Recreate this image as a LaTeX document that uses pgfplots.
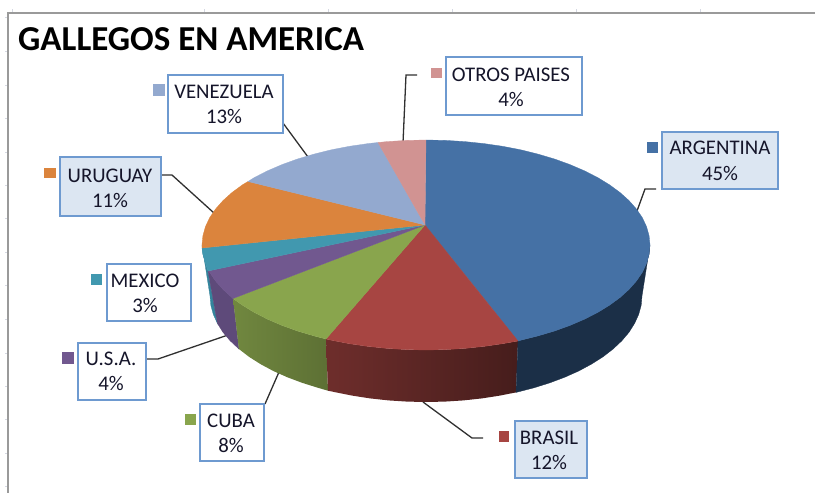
\documentclass[border=0pt]{standalone}
\usepackage{pgfplots}
\pgfplotsset{compat=1.18}
\usepackage{fontspec}
\setmainfont{Carlito}
\definecolor{cBlue}{HTML}{4571A5}
\definecolor{cRed}{HTML}{A74542}
\definecolor{cGreen}{HTML}{89A54D}
\definecolor{cPurple}{HTML}{71588F}
\definecolor{cTeal}{HTML}{4198AF}
\definecolor{cOrange}{HTML}{DB843D}
\definecolor{cLight}{HTML}{93A9CF}
\definecolor{cPink}{HTML}{D19392}
\definecolor{sBlue}{HTML}{1B2F47}
\definecolor{sPurple}{HTML}{5E4A7A}
\definecolor{sTeal}{HTML}{34849C}
\definecolor{boxline}{HTML}{6E9AD0}
\definecolor{boxfill}{HTML}{DCE6F2}
\definecolor{txt}{HTML}{15152A}
\definecolor{frameline}{HTML}{9A9A9A}
\definecolor{tickline}{HTML}{D5D8E2}
\definecolor{leader}{HTML}{303030}
\begin{document}
\begin{tikzpicture}
\begin{axis}[
  scale only axis, width=815pt, height=493pt,
  xmin=0, xmax=815, ymin=0, ymax=493, y dir=reverse,
  hide axis, clip=true,
  box/.style={draw=boxline, line width=1.3pt, fill=#1},
  key/.style={draw=none, fill=#1},
  lead/.style={draw=leader, line width=1.3pt, mark=none},
  top/.style={fill=#1, draw=#1, line width=0.3pt},
]
% background
\addplot[draw=none, fill=white] coordinates {(0,0)(815,0)(815,493)(0,493)} --cycle;
% sheet grid marks and frame
\addplot[tickline, line width=1pt] coordinates {(5,17)(8,17)};
\addplot[tickline, line width=1pt] coordinates {(5,51)(8,51)};
\addplot[tickline, line width=1pt] coordinates {(5,85)(8,85)};
\addplot[tickline, line width=1pt] coordinates {(5,118)(8,118)};
\addplot[tickline, line width=1pt] coordinates {(5,152)(8,152)};
\addplot[tickline, line width=1pt] coordinates {(5,185)(8,185)};
\addplot[tickline, line width=1pt] coordinates {(5,218)(8,218)};
\addplot[tickline, line width=1pt] coordinates {(5,252)(8,252)};
\addplot[tickline, line width=1pt] coordinates {(5,285)(8,285)};
\addplot[tickline, line width=1pt] coordinates {(5,319)(8,319)};
\addplot[tickline, line width=1pt] coordinates {(5,353)(8,353)};
\addplot[tickline, line width=1pt] coordinates {(5,386)(8,386)};
\addplot[tickline, line width=1pt] coordinates {(5,419)(8,419)};
\addplot[tickline, line width=1pt] coordinates {(5,453)(8,453)};
\addplot[tickline, line width=1pt] coordinates {(5,486)(8,486)};
\addplot[tickline, line width=1pt] coordinates {(12,9)(12,13)};
\addplot[tickline, line width=1pt] coordinates {(204,9)(204,13)};
\addplot[tickline, line width=1pt] coordinates {(328,9)(328,13)};
\addplot[tickline, line width=1pt] coordinates {(452,9)(452,13)};
\addplot[tickline, line width=1pt] coordinates {(576,9)(576,13)};
\addplot[tickline, line width=1pt] coordinates {(700,9)(700,13)};
\addplot[frameline, line width=1.2pt] coordinates {(8,493)(8,13)(815,13)};

% leader lines
\addplot[lead] coordinates {(283,123)(308,157)};
\addplot[lead] coordinates {(162,175)(172,175)(214,213)};
\addplot[lead] coordinates {(147,359)(158,359)(228,335)};
\addplot[lead] coordinates {(265,404)(279,372)};
\addplot[lead] coordinates {(423,402)(472,438)(483,438)};
\addplot[lead] coordinates {(656,189)(645,189)(637,211)};
\addplot[lead] coordinates {(417,75)(406,75)(403,143)};

% sides
\addplot[top=sTeal] coordinates {(202,245)(202.9,254.2)(205.4,263.2)(208,271)(217.4,323.4)(213.3,314.4)(210.8,305.2)(210,296)} --cycle;
\addplot[top=sPurple] coordinates {(208,271)(209.6,272.2)(215.5,280.9)(223,289.4)(233,298.5)(238.9,349)(230.2,340.8)(223,332.3)(217.4,323.4)} --cycle;
\addplot[draw=none, left color=cGreen!82!black, right color=cGreen!68!black] coordinates {(233,298.5)(242.5,305.2)(254.4,312.5)(267.6,319.2)(282,325.4)(297.5,331)(314,335.9)(326,339)(328,390.7)(318,387.8)(302.1,382.8)(287.2,377.2)(273.3,371)(260.5,364.1)(249,356.8)(238.9,349)} --cycle;
\addplot[draw=none, left color=cRed!66!black, right color=cRed!42!black] coordinates {(326,339)(331.3,340.2)(349.4,343.7)(368,346.4)(387.1,348.4)(406.5,349.6)(426,350)(445.5,349.6)(464.9,348.4)(484,346.4)(502.6,343.7)(518,341)(516,392.4)(499.9,395.6)(481.9,398.4)(463.5,400.4)(444.8,401.6)(426,402)(407.2,401.6)(388.5,400.4)(370.1,398.4)(352.1,395.6)(334.7,392.1)(328,390.7)} --cycle;
\addplot[top=sBlue] coordinates {(650,245)(649.1,254.2)(646.6,263.2)(642.4,272.2)(636.5,280.9)(629,289.4)(620,297.5)(609.5,305.2)(597.6,312.5)(584.4,319.2)(570,325.4)(554.5,331)(538,335.9)(520.7,340.2)(518,341)(516,392.4)(517.3,392.1)(534,387.8)(549.9,382.8)(564.8,377.2)(578.7,371)(591.5,364.1)(603,356.8)(613.1,349)(621.8,340.8)(629,332.3)(634.6,323.4)(638.7,314.4)(641.2,305.2)(642,296)} --cycle;

% top faces
\addplot[top=cBlue] coordinates {(425,225)(426,140)(445.5,140.4)(464.9,141.6)(484,143.6)(502.6,146.3)(520.7,149.8)(538,154.1)(554.5,159)(570,164.6)(584.4,170.8)(597.6,177.5)(609.5,184.8)(620,192.5)(629,200.6)(636.5,209.1)(642.4,217.8)(646.6,226.8)(649.1,235.8)(650,245)(649.1,254.2)(646.6,263.2)(642.4,272.2)(636.5,280.9)(629,289.4)(620,297.5)(609.5,305.2)(597.6,312.5)(584.4,319.2)(570,325.4)(554.5,331)(538,335.9)(520.7,340.2)(518,341)} --cycle;
\addplot[top=cRed] coordinates {(425,225)(518,341)(502.6,343.7)(484,346.4)(464.9,348.4)(445.5,349.6)(426,350)(406.5,349.6)(387.1,348.4)(368,346.4)(349.4,343.7)(331.3,340.2)(326,339)} --cycle;
\addplot[top=cGreen] coordinates {(425,225)(326,339)(314,335.9)(297.5,331)(282,325.4)(267.6,319.2)(254.4,312.5)(242.5,305.2)(233,298.5)} --cycle;
\addplot[top=cPurple] coordinates {(425,225)(233,298.5)(223,289.4)(215.5,280.9)(209.6,272.2)(208,271)} --cycle;
\addplot[top=cTeal] coordinates {(425,225)(208,271)(205.4,263.2)(202.9,254.2)(202,248)} --cycle;
\addplot[top=cOrange] coordinates {(425,225)(202,248)(202,245)(202.9,235.8)(205.4,226.8)(209.6,217.8)(215.5,209.1)(223,200.6)(232,192.5)(242.5,184.8)(248,181.5)} --cycle;
\addplot[top=cLight] coordinates {(425,225)(248,181.5)(254.4,177.5)(267.6,170.8)(282,164.6)(297.5,159)(314,154.1)(331.3,149.8)(349.4,146.3)(368,143.6)(378,142.5)} --cycle;
\addplot[top=cPink] coordinates {(425,225)(378,142.5)(387.1,141.6)(406.5,140.4)(426,140)} --cycle;

% label boxes
\addplot[box=white] coordinates {(168,75)(283,75)(283,133)(168,133)} --cycle;
\addplot[box=boxfill] coordinates {(60,157)(161,157)(161,216)(60,216)} --cycle;
\addplot[box=white] coordinates {(107,264)(191,264)(191,321)(107,321)} --cycle;
\addplot[box=white] coordinates {(78,343)(146,343)(146,400)(78,400)} --cycle;
\addplot[box=white] coordinates {(200,404)(264,404)(264,461)(200,461)} --cycle;
\addplot[box=white] coordinates {(446,57)(582,57)(582,115)(446,115)} --cycle;
\addplot[box=boxfill] coordinates {(662,132)(778,132)(778,189)(662,189)} --cycle;
\addplot[box=boxfill] coordinates {(515,421)(587,421)(587,478)(515,478)} --cycle;

% legend keys
\addplot[key=cLight] coordinates {(153,84)(165,84)(165,96)(153,96)} --cycle;
\addplot[key=cOrange] coordinates {(44,168)(56,168)(56,178)(44,178)} --cycle;
\addplot[key=cTeal] coordinates {(91,274)(102,274)(102,285)(91,285)} --cycle;
\addplot[key=cPurple] coordinates {(62,352)(74,352)(74,364)(62,364)} --cycle;
\addplot[key=cGreen] coordinates {(185,414)(196,414)(196,425)(185,425)} --cycle;
\addplot[key=cPink] coordinates {(431,68)(442,68)(442,78)(431,78)} --cycle;
\addplot[key=cBlue] coordinates {(647,142)(658,142)(658,153)(647,153)} --cycle;
\addplot[key=cRed] coordinates {(499,431)(509,431)(509,442)(499,442)} --cycle;

% title and texts
\node[anchor=base west,inner sep=0pt,font=\fontsize{35}{38}\bfseries\selectfont] at (axis cs:18,50) {GALLEGOS EN AMERICA};
\def\lb#1#2#3{%
  \node[anchor=base,inner sep=0pt,text=txt,font=\fontsize{20.8}{23}\selectfont] at (axis cs:#1,#2) {#3};}
\lb{224}{98}{VENEZUELA}
\lb{224}{123}{13\%}
\lb{110}{182}{URUGUAY}
\lb{110}{207}{11\%}
\lb{145}{287}{MEXICO}
\lb{145}{312}{3\%}
\lb{111}{365}{U.S.A.}
\lb{111}{390}{4\%}
\lb{231}{427}{CUBA}
\lb{231}{452}{8\%}
\lb{511}{81}{OTROS PAISES}
\lb{511}{106}{4\%}
\lb{720}{154}{ARGENTINA}
\lb{720}{180}{45\%}
\lb{549}{444}{BRASIL}
\lb{549}{469}{12\%}
\end{axis}
\end{tikzpicture}
\end{document}
